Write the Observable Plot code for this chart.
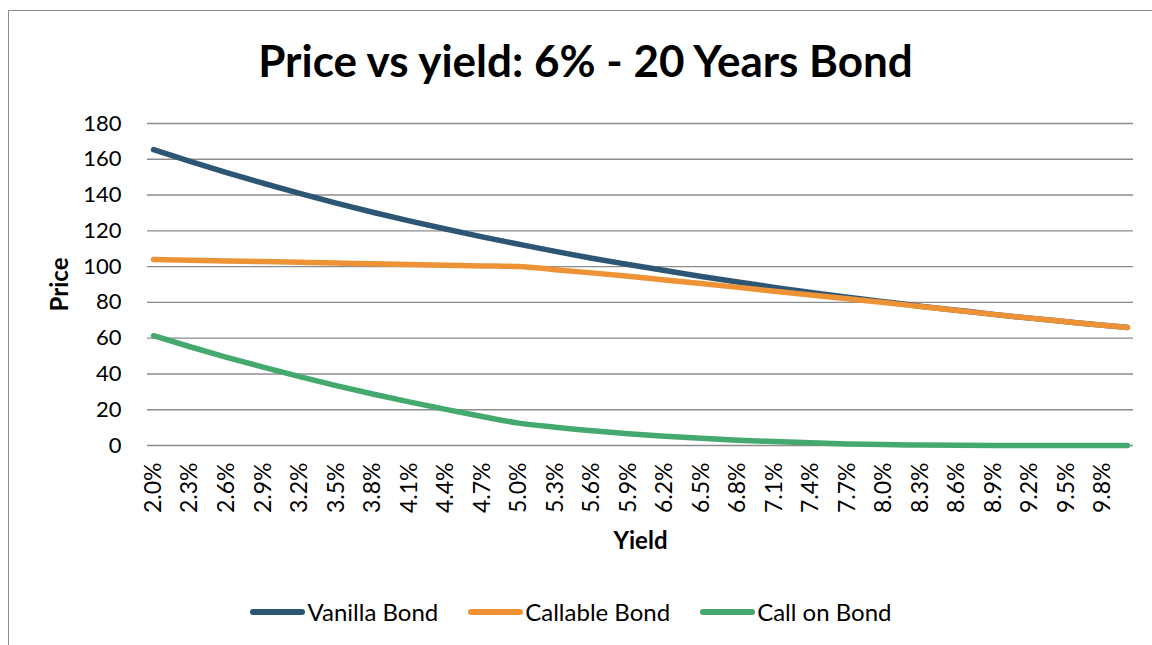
<!DOCTYPE html>
<html>
<head>
<meta charset="utf-8">
<script src="https://cdn.jsdelivr.net/npm/d3@7"></script>
<script src="https://cdn.jsdelivr.net/npm/@observablehq/plot@0.6"></script>
<style>
  html, body { margin: 0; padding: 0; background: #fff; }
  #wrap { position: relative; width: 1152px; height: 645px; overflow: hidden; font-family: Lato, "Open Sans", sans-serif; }
  #frame { position: absolute; left: 8px; top: 10px; width: 1300px; height: 800px; border: 1.5px solid #8c8c8c; box-sizing: border-box; }
  #title { position: absolute; left: 0; top: 38px; width: 1171px; text-align: center; font-weight: bold; font-size: 44px; line-height: 1; margin: 0; color: #000; }
  #chart { position: absolute; left: 0; top: 0; }
  #legend { position: absolute; left: 0; top: 600px; width: 1142px; display: flex; justify-content: center; align-items: center; font-size: 24px; line-height: 24px; color: #000; }
  .item { display: flex; align-items: center; margin: 0 15px; }
  .sw { width: 55px; height: 6px; border-radius: 3px; margin-right: 2px; }
</style>
</head>
<body>
<div id="wrap">
  <div id="frame"></div>
  <h1 id="title">Price vs yield: 6% - 20 Years Bond</h1>
  <div id="chart"></div>
  <div id="legend"></div>
</div>
<script>
// Yield (%) sample points
const yields = [2.0, 2.3, 2.6, 2.9, 3.2, 3.5, 3.8, 4.1, 4.4, 4.7, 5.0, 5.3, 5.6, 5.9, 6.2, 6.5, 6.8, 7.1, 7.4, 7.7, 8.0, 8.3, 8.6, 8.9, 9.2, 9.5, 9.8, 10.0];
// Series values
const vanillaBond = [165.4, 158.8, 152.5, 146.6, 140.9, 135.5, 130.4, 125.6, 121.0, 116.6, 112.5, 108.5, 104.7, 101.2, 97.8, 94.5, 91.4, 88.4, 85.6, 82.9, 80.4, 77.9, 75.6, 73.3, 71.2, 69.2, 67.2, 66.0];
const callableBond = [104.0, 103.6, 103.2, 102.8, 102.4, 102.0, 101.6, 101.2, 100.8, 100.4, 100.0, 98.3, 96.5, 94.6, 92.5, 90.5, 88.4, 86.2, 84.1, 82.0, 79.9, 77.7, 75.5, 73.3, 71.2, 69.2, 67.2, 66.0];
const callOnBond = [61.4, 55.2, 49.3, 43.8, 38.5, 33.5, 28.8, 24.4, 20.2, 16.2, 12.5, 10.2, 8.2, 6.6, 5.2, 4.0, 3.0, 2.2, 1.5, 0.9, 0.5, 0.25, 0.1, 0.05, 0, 0, 0, 0];
// Axis ticks
const xTickValues = [2.0, 2.3, 2.6, 2.9, 3.2, 3.5, 3.8, 4.1, 4.4, 4.7, 5.0, 5.3, 5.6, 5.9, 6.2, 6.5, 6.8, 7.1, 7.4, 7.7, 8.0, 8.3, 8.6, 8.9, 9.2, 9.5, 9.8];
const xTickLabels = ["2.0%", "2.3%", "2.6%", "2.9%", "3.2%", "3.5%", "3.8%", "4.1%", "4.4%", "4.7%", "5.0%", "5.3%", "5.6%", "5.9%", "6.2%", "6.5%", "6.8%", "7.1%", "7.4%", "7.7%", "8.0%", "8.3%", "8.6%", "8.9%", "9.2%", "9.5%", "9.8%"];
const yTickValues = [0, 20, 40, 60, 80, 100, 120, 140, 160, 180];
const seriesNames = ["Vanilla Bond", "Callable Bond", "Call on Bond"];
const seriesColors = ["#2d5574", "#ee9335", "#44a96e"];

const seriesValues = [vanillaBond, callableBond, callOnBond];
const rows = [];
seriesNames.forEach((name, s) => {
  yields.forEach((x, i) => rows.push({series: name, yield: x, price: seriesValues[s][i]}));
});

const chart = Plot.plot({
  width: 1152,
  height: 645,
  marginLeft: 147,
  marginRight: 19,
  marginTop: 123,
  marginBottom: 200,
  style: {fontFamily: "Lato, 'Open Sans', sans-serif", color: "#000", background: "transparent", overflow: "visible"},
  x: {domain: [1.95, 10.05]},
  y: {domain: [0, 180]},
  color: {domain: seriesNames, range: seriesColors},
  marks: [
    Plot.ruleY(yTickValues, {stroke: "#8c8c8c", strokeWidth: 1.4}),
    Plot.axisY({ticks: yTickValues, tickSize: 0, tickPadding: 26, fontSize: 22, label: null}),
    Plot.axisX({ticks: xTickValues, tickFormat: d => xTickLabels[xTickValues.indexOf(d)], tickRotate: -90, tickSize: 0, tickPadding: 17, fontSize: 23, label: null}),
    Plot.line(rows, {x: "yield", y: "price", z: "series", stroke: "series", strokeWidth: 5.5, strokeLinecap: "round", strokeLinejoin: "round", curve: "monotone-x"}),
    Plot.text(["Yield"], {frameAnchor: "bottom", dy: 96, lineAnchor: "middle", textAnchor: "middle", fontWeight: "bold", fontSize: 24}),
    Plot.text(["Price"], {frameAnchor: "left", dx: -87, rotate: -90, lineAnchor: "middle", textAnchor: "middle", fontWeight: "bold", fontSize: 24})
  ]
});
document.getElementById("chart").appendChild(chart);

const legend = document.getElementById("legend");
seriesNames.forEach((name, i) => {
  const item = document.createElement("div");
  item.className = "item";
  const sw = document.createElement("div");
  sw.className = "sw";
  sw.style.background = seriesColors[i];
  const label = document.createElement("span");
  label.textContent = name;
  item.appendChild(sw);
  item.appendChild(label);
  legend.appendChild(item);
});
</script>
</body>
</html>
